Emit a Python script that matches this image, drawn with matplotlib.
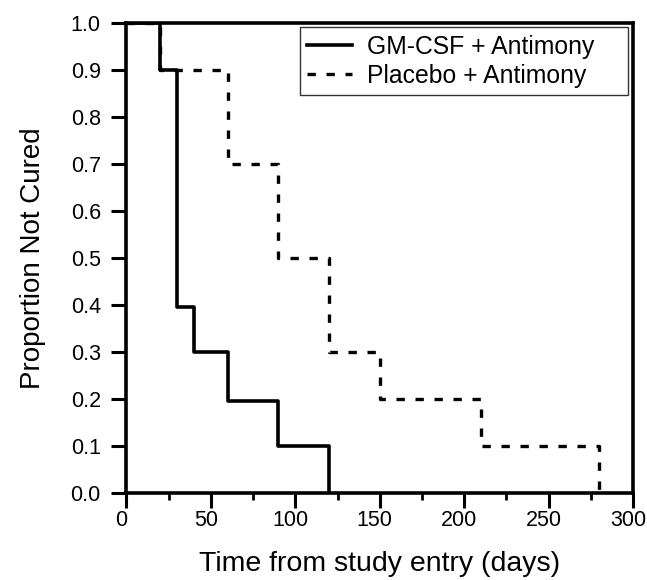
import matplotlib
matplotlib.use("Agg")
import matplotlib.pyplot as plt
from matplotlib.ticker import MultipleLocator, FormatStrFormatter
from matplotlib.transforms import ScaledTranslation

plt.rcParams['font.family'] = ['Liberation Sans', 'DejaVu Sans']

gm_days = [0, 20, 30, 40, 60, 90, 120]
gm_prop = [1.0, 0.9, 0.395, 0.3, 0.195, 0.1, 0.0]
pl_days = [0, 20, 60, 90, 120, 150, 210, 280]
pl_prop = [1.0, 0.9, 0.7, 0.5, 0.3, 0.2, 0.1, 0.0]

fig = plt.figure(figsize=(6.47, 5.8), dpi=100)
ax = fig.add_axes([0.1955, 0.150, 0.783, 0.811])

ax.step(pl_days, pl_prop, where='post', color='black', lw=2.4,
        linestyle=(0, (2.5, 3.2)), label='Placebo + Antimony')
ax.step(gm_days, gm_prop, where='post', color='black', lw=2.6,
        label='GM-CSF + Antimony')

ax.set_xlim(0, 300)
ax.set_ylim(0, 1.0)
ax.xaxis.set_major_locator(MultipleLocator(50))
ax.xaxis.set_minor_locator(MultipleLocator(25))
ax.yaxis.set_major_locator(MultipleLocator(0.1))
ax.yaxis.set_major_formatter(FormatStrFormatter('%.1f'))
for s in ax.spines.values():
    s.set_linewidth(2.6)
ax.tick_params(which='major', direction='out', length=10.5, width=2.2, labelsize=15.5)
ax.tick_params(axis='x', which='major', pad=2)
ax.tick_params(axis='y', which='major', pad=8)
ax.tick_params(which='minor', direction='out', length=5, width=2)
ax.tick_params(axis='y', which='minor', left=False)

off = ScaledTranslation(-5/100, 0, fig.dpi_scale_trans)
for lbl in ax.get_xticklabels():
    lbl.set_transform(lbl.get_transform() + off)

ax.set_xlabel('Time from study entry (days)', fontsize=20.5, labelpad=14)
ax.set_ylabel('Proportion Not Cured', fontsize=20, labelpad=18)

h, l = ax.get_legend_handles_labels()
leg = ax.legend(h[::-1], l[::-1], loc='upper left',
                bbox_to_anchor=(0.3425, 0.99, 0.6476, 0.0), mode='expand',
                fontsize=17.8, frameon=True, fancybox=False, edgecolor='black',
                borderaxespad=0.0, handlelength=1.8, handletextpad=0.6,
                borderpad=0.3, labelspacing=0.2)
leg.get_frame().set_linewidth(1.0)

fig.savefig('out.png', dpi=100)
